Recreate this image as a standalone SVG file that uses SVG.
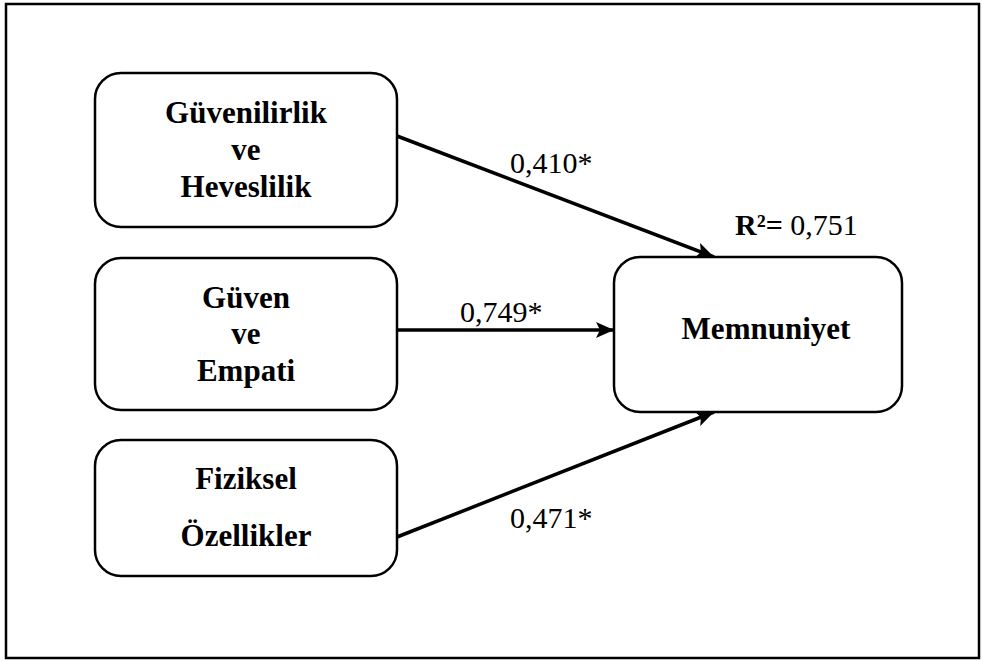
<svg xmlns="http://www.w3.org/2000/svg" width="982" height="661" viewBox="0 0 982 661">
<style>
.box{fill:#fff;stroke:#000;stroke-width:2.5}
.lbl{font-family:"Liberation Serif","Times New Roman",serif;font-weight:bold;font-size:31px;fill:#000;text-anchor:middle}
.num{font-family:"Liberation Serif","Times New Roman",serif;font-size:30px;fill:#000}
.edge{stroke:#000;stroke-width:3.5;fill:none}
</style>
<defs>
<marker id="ah" markerUnits="userSpaceOnUse" markerWidth="20" markerHeight="16" refX="18" refY="8" orient="auto" viewBox="0 0 20 16">
<path d="M0,0 L18,8 L0,16 L4,8 Z" fill="#000"/>
</marker>
</defs>
<rect x="0" y="0" width="982" height="661" fill="#fff"/>
<rect x="6" y="4" width="973" height="654" fill="none" stroke="#000" stroke-width="2.5"/>
<g id="connectors">
<line class="edge" x1="397" y1="136" x2="714" y2="257" marker-end="url(#ah)"/>
<line class="edge" x1="397" y1="330" x2="614" y2="330" stroke-width="2.5" marker-end="url(#ah)"/>
<line class="edge" x1="397" y1="537" x2="714" y2="412" marker-end="url(#ah)"/>
<text class="num" x="510" y="173">0,410*</text>
<text class="num" x="460" y="322">0,749*</text>
<text class="num" x="510" y="528">0,471*</text>
</g>
<g id="n1">
<rect class="box" x="95" y="73" width="302" height="154" rx="26"/>
<text class="lbl" x="246" y="123">Güvenilirlik</text>
<text class="lbl" x="246" y="160">ve</text>
<text class="lbl" x="246" y="197">Heveslilik</text>
</g>
<g id="n2">
<rect class="box" x="95" y="258" width="302" height="152" rx="26"/>
<text class="lbl" x="246" y="308">Güven</text>
<text class="lbl" x="246" y="344">ve</text>
<text class="lbl" x="246" y="381">Empati</text>
</g>
<g id="n3">
<rect class="box" x="95" y="440" width="302" height="136" rx="26"/>
<text class="lbl" x="246" y="489">Fiziksel</text>
<text class="lbl" x="246" y="546">Özellikler</text>
</g>
<g id="n4">
<rect class="box" x="614" y="257" width="288" height="155" rx="26"/>
<text class="lbl" x="766" y="339">Memnuniyet</text>
<text x="735" y="235" style="font-family:'Liberation Serif','Times New Roman',serif;font-size:30px"><tspan font-weight="bold">R²=</tspan> 0,751</text>
</g>
</svg>
